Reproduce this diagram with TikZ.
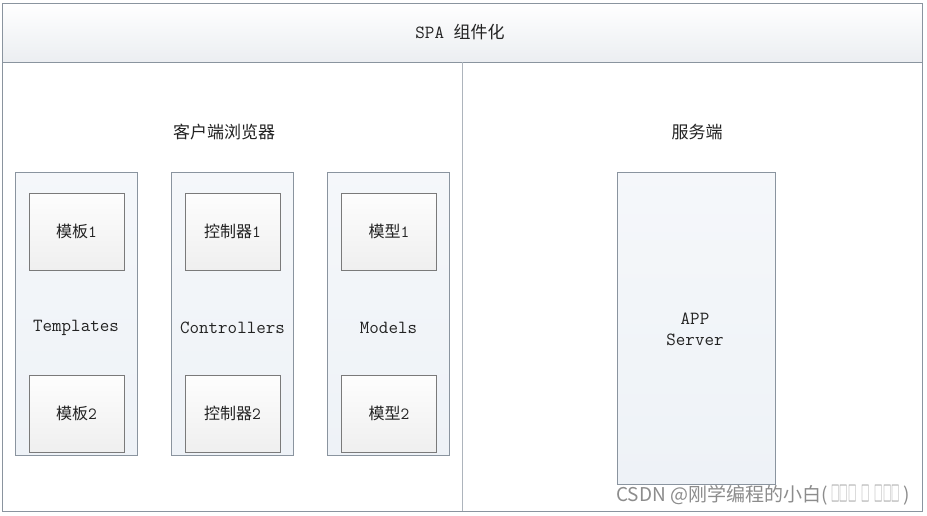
\documentclass[tikz,border=0pt]{standalone}
\usepackage{fontspec}
\usepackage{xcolor}
\usepackage{graphicx}
\usepackage{tikz}
\newfontfamily\cjk{Noto Sans CJK SC}
\definecolor{frameline}{HTML}{8A949F}
\definecolor{colfill}{HTML}{EEF2F7}
\definecolor{boxfill}{HTML}{EFEFEF}
\definecolor{boxline}{HTML}{7A7A7A}
\definecolor{txt}{HTML}{222222}
\definecolor{marktxt}{HTML}{8C8C8C}

\begin{document}
\begin{tikzpicture}[x=1pt,y=-1pt,
  column/.style={draw=frameline,line width=0.8pt,top color=colfill!60,bottom color=colfill,minimum width=122pt,minimum height=283pt,inner sep=0pt},
  item/.style={draw=boxline,line width=0.8pt,top color=white!90!boxfill,bottom color=boxfill,minimum width=95pt,minimum height=77pt,inner sep=0pt,font=\cjk\fontsize{16}{18}\selectfont,text=txt},
  lbl/.style={font=\ttfamily\fontsize{18.5}{21}\selectfont,text=txt,inner sep=0pt},
  head/.style={font=\cjk\fontsize{17}{20}\selectfont,text=txt,inner sep=0pt}]
  \useasboundingbox (0,0) rectangle (927,515);
  % frame and title bar
  \draw[frameline,line width=0.8pt,fill=white] (2,3) rectangle (922,511);
  \shade[top color=white,bottom color=colfill!90!gray!70] (2,3) rectangle (922,62);
  \draw[frameline,line width=0.8pt] (2,3) rectangle (922,62);
  \draw[frameline!70,line width=0.8pt] (462,62) -- (462,511);
  \node[lbl] (title) at (460,32) {SPA {\cjk\fontsize{17}{20}\selectfont 组件化}};
  % client side
  \node[head] (client) at (224,132) {客户端浏览器};
  \node[column] (tpl) at (76,313.5) {};
  \node[column] (ctl) at (232.5,313.5) {};
  \node[column] (mdl) at (388.5,313.5) {};
  \node[item] (tpl1) at (76.5,231.5) {模板{\ttfamily\fontsize{17}{18}\selectfont 1}};
  \node[item] (tpl2) at (76.5,413.5) {模板{\ttfamily\fontsize{17}{18}\selectfont 2}};
  \node[item] (ctl1) at (232.5,231.5) {控制器{\ttfamily\fontsize{17}{18}\selectfont 1}};
  \node[item] (ctl2) at (232.5,413.5) {控制器{\ttfamily\fontsize{17}{18}\selectfont 2}};
  \node[item] (mdl1) at (389,231.5) {模型{\ttfamily\fontsize{17}{18}\selectfont 1}};
  \node[item] (mdl2) at (389,413.5) {模型{\ttfamily\fontsize{17}{18}\selectfont 2}};
  \node[lbl] (tpllbl) at (76,328) {Templates};
  \node[lbl] (ctllbl) at (232.5,328) {Controllers};
  \node[lbl] (mdllbl) at (388.5,328) {Models};
  % server side
  \node[head] (server) at (697,132) {服务端};
  \node[column,minimum width=158pt,minimum height=312pt] (app) at (696,328) {};
  \node[lbl,align=center] (applbl) at (695,329) {APP\\Server};
  % watermark
  \node[font=\cjk\fontsize{19}{21}\selectfont,text=marktxt,inner sep=0pt,anchor=west] (mark) at (616,495) {CSDN @刚学编程的小白(\scalebox{0.4}[1]{\fontsize{21}{23}\selectfont\hspace{10pt}□□□\hspace{12pt}□\hspace{12pt}□□□\hspace{10pt}})};
\end{tikzpicture}
\end{document}
